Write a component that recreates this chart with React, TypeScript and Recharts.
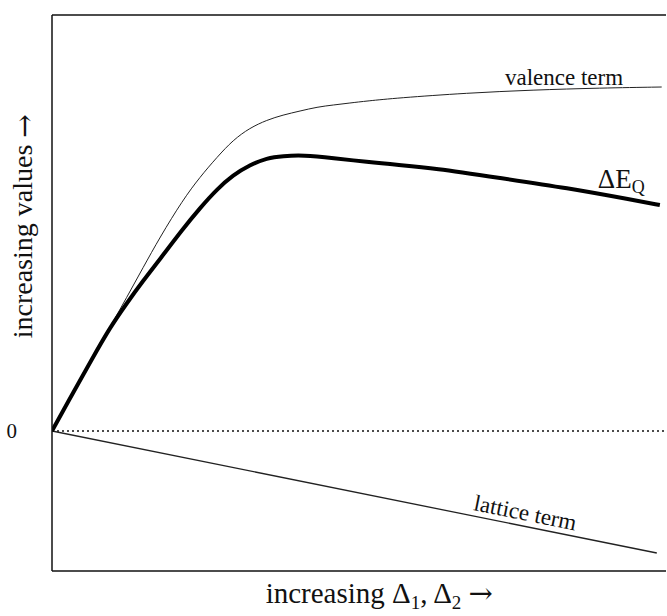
import { LineChart, Line, XAxis, YAxis, ReferenceLine, ReferenceDot } from 'recharts';

const FONT = '"Liberation Serif", "DejaVu Serif", serif';
const ARROW_FONT = '"DejaVu Serif", serif';
const INK = '#111';

// x: increasing Δ1, Δ2 (0..100), y: arbitrary "increasing values" units
const eqX = [0, 2.4, 6.7, 9.4, 12.2, 14.8, 17.6, 21.3, 24.1, 26.9, 29.5, 32.2, 35.0, 37.6, 40.9, 45.8, 51.3, 56.4, 62.1, 73.0, 83.9, 94.6, 99.0];
const eqY = [0, 2.7, 7.4, 10.3, 12.8, 15.0, 17.2, 20.2, 22.3, 24.2, 25.6, 26.6, 27.3, 27.5, 27.6, 27.3, 26.9, 26.6, 26.3, 25.3, 24.3, 23.1, 22.6];

const valX = [0, 2.4, 6.7, 9.4, 12.2, 14.8, 17.6, 21.3, 24.1, 26.9, 29.5, 32.2, 35.0, 37.6, 40.4, 43.2, 45.8, 48.5, 51.3, 56.2, 67.6, 78.3, 89.3, 99.3];
const valY = [0, 2.7, 7.4, 10.3, 13.4, 16.3, 19.4, 23.1, 25.4, 27.4, 29.1, 30.3, 31.1, 31.6, 32.0, 32.4, 32.6, 32.8, 33.0, 33.3, 33.8, 34.1, 34.3, 34.4];

const latX = [0, 98.5];
const latY = [0, -12.2];

const Y_MIN = -14;
const Y_MAX = 41.6;

const zip = (xs: number[], ys: number[]) => xs.map((x, i) => ({ x, y: ys[i] }));

const eqData = zip(eqX, eqY);
const valData = zip(valX, valY);
const latData = zip(latX, latY);

const dotLabel = (render: (cx: number, cy: number) => any) => (props: any) => {
  const vb = props.viewBox || {};
  return render(vb.x + (vb.width || 0) / 2, vb.y + (vb.height || 0) / 2);
};

export default function App() {
  return (
    <div style={{ position: 'absolute', left: 0, top: 0, background: '#fff' }}>
      <LineChart width={667} height={616} margin={{ top: 15, right: 1, bottom: 0, left: 0 }}>
        <XAxis
          dataKey="x"
          type="number"
          domain={[0, 100]}
          allowDataOverflow
          tick={false}
          tickLine={false}
          height={45}
          axisLine={{ stroke: INK, strokeWidth: 1.5 }}
          label={{
            content: (p: any) => {
              const vb = p.viewBox;
              return (
                <text x={vb.x + vb.width * 0.533} y={vb.y + 32} textAnchor="middle" fontFamily={FONT} fontSize={29} fill={INK}>
                  increasing Δ<tspan dy={6} fontSize={19}>1</tspan>
                  <tspan dy={-6}>, Δ</tspan>
                  <tspan dy={6} fontSize={19}>2</tspan>
                  <tspan dy={-6}> </tspan>
                  <tspan fontFamily={ARROW_FONT} fontSize={29}>→</tspan>
                </text>
              );
            },
          }}
        />
        <YAxis
          type="number"
          domain={[Y_MIN, Y_MAX]}
          allowDataOverflow
          ticks={[0]}
          width={52}
          tickLine={false}
          tickSize={0}
          tickMargin={35}
          tick={{ fontFamily: FONT, fontSize: 21, fill: INK }}
          axisLine={{ stroke: INK, strokeWidth: 1.5 }}
          label={{
            content: (p: any) => {
              const vb = p.viewBox;
              const cx = vb.x + 26;
              const cy = vb.y + vb.height * 0.38;
              return (
                <text x={cx} y={cy} transform={`rotate(-90 ${cx} ${cy})`} textAnchor="middle" dominantBaseline="middle" fontFamily={FONT} fontSize={28} fill={INK}>
                  increasing values <tspan fontFamily={ARROW_FONT}>→</tspan>
                </text>
              );
            },
          }}
        />
        <ReferenceLine y={Y_MAX} stroke={INK} strokeWidth={1.5} />
        <ReferenceLine y={0} stroke={INK} strokeWidth={1.5} strokeDasharray="2 3" />
        <Line data={latData} dataKey="y" type="linear" stroke="#222" strokeWidth={1.3} dot={false} isAnimationActive={false} />
        <Line data={valData} dataKey="y" type="basis" stroke="#222" strokeWidth={1} dot={false} isAnimationActive={false} />
        <Line data={eqData} dataKey="y" type="basis" stroke="#000" strokeWidth={4} dot={false} isAnimationActive={false} />
        <ReferenceDot
          x={83.4}
          y={34.6}
          r={1}
          fill="none"
          stroke="none"
          label={{
            content: dotLabel((cx, cy) => (
              <text x={cx} y={cy} textAnchor="middle" fontFamily={FONT} fontSize={23} fill={INK}>
                valence term
              </text>
            )),
          }}
        />
        <ReferenceDot
          x={88.9}
          y={24.3}
          r={1}
          fill="none"
          stroke="none"
          label={{
            content: dotLabel((cx, cy) => (
              <text x={cx} y={cy} textAnchor="start" fontFamily={FONT} fontSize={27} fill={INK}>
                ΔE<tspan dy={5} fontSize={18}>Q</tspan>
              </text>
            )),
          }}
        />
        <ReferenceDot
          x={77}
          y={-8.4}
          r={1}
          fill="none"
          stroke="none"
          label={{
            content: dotLabel((cx, cy) => (
              <text x={cx} y={cy} transform={`rotate(11.4 ${cx} ${cy})`} textAnchor="middle" dominantBaseline="middle" fontFamily={FONT} fontSize={23} fill={INK}>
                lattice term
              </text>
            )),
          }}
        />
      </LineChart>
    </div>
  );
}
